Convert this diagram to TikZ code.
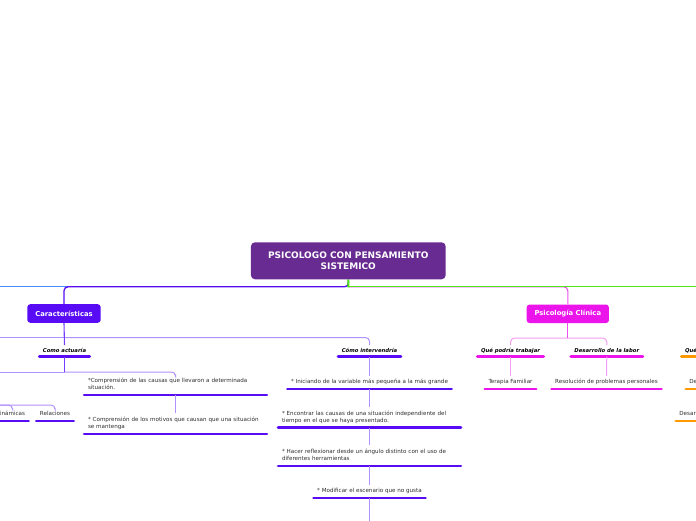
\documentclass[tikz,border=0pt]{standalone}
\usepackage{fontspec}
\setmainfont{DejaVu Sans}
\usetikzlibrary{calc}
\definecolor{cRoot}{RGB}{104,43,145}
\definecolor{cCar}{RGB}{88,12,245}
\definecolor{cCarLine}{RGB}{120,60,255}
\definecolor{cLav}{RGB}{176,145,255}
\definecolor{cMag}{RGB}{235,20,235}
\definecolor{cMagLine}{RGB}{238,80,238}
\definecolor{cLMag}{RGB}{244,155,244}
\definecolor{cGreen}{RGB}{80,230,20}
\definecolor{cLBlue}{RGB}{70,140,255}
\definecolor{cOrange}{RGB}{255,153,0}
\definecolor{cText}{RGB}{45,45,45}
\newcommand\sst{\rule[-1.3pt]{0pt}{1pt}}
\begin{document}
\begin{tikzpicture}[x=1pt,y=-1pt,
  rootbox/.style={fill=cRoot, text=white, font=\fontsize{9}{11.3}\selectfont\bfseries, align=center, rounded corners=4pt, minimum width=194.7pt, minimum height=37pt, inner sep=0pt},
  mainbox/.style={fill=#1, text=white, font=\fontsize{6.8}{8}\selectfont\bfseries, rounded corners=3pt, minimum height=18.6pt, inner sep=0pt},
  lbl/.style={anchor=south, text=black, font=\fontsize{5.3}{7}\selectfont\bfseries\itshape, inner xsep=3.5pt, inner ysep=2.8pt, text height=4pt, text depth=1.3pt},
  item/.style={anchor=south, text=cText, font=\fontsize{5.6}{7}\selectfont, inner xsep=3.5pt, inner ysep=3.7pt, text height=4pt, text depth=1.3pt},
  itemw/.style={anchor=south, text=cText, font=\fontsize{5.6}{7}\selectfont, inner xsep=3.7pt, inner ysep=3.7pt, text width=175pt, align=left},
  barline/.style={line width=2.8pt, line cap=round},
  ubar/.style={append after command={(\tikzlastnode.south west) edge[barline, draw=#1] (\tikzlastnode.south east)}},
  conL/.style={draw=cLav, line width=1pt},
  conD/.style={draw=cCarLine, line width=1.1pt},
  conLM/.style={draw=cLMag, line width=1pt},
  conM/.style={draw=cMagLine, line width=1.1pt},
  conMain/.style={line width=1.3pt}
]
\useasboundingbox (0,0) rectangle (696,520);
\clip (0,0) rectangle (696,520);

% main nodes
\node[rootbox] (root) at (348.3,260.8) {PSICOLOGO CON PENSAMIENTO\\SISTEMICO};
\node[mainbox=cCar, minimum width=73.4pt] (car) at (64,313.5) {Características};
\node[mainbox=cMag, minimum width=82.3pt] (psi) at (567.8,313.8) {Psicología Clínica};

% Caracteristicas branch
\node[lbl, ubar=cCar] (lblA) at (64.5,356.5) {Como actuaría};
\node[lbl, ubar=cCar] (lblB) at (369.5,356.5) {Cómo intervendría};
\node[itemw, ubar=cCar] (cA1) at (175.5,395) {*Comprensión de las causas que llevaron a determinada\\situación.\sst};
\node[itemw, ubar=cCar] (cA2) at (175.5,434) {* Comprensión de los motivos que causan que una situación\\se mantenga\sst};
\node[item, ubar=cCar] (din) at (12.5,421) {inámicas};
\node[item, ubar=cCar] (rel) at (55,421) {Relaciones};
\node[item, ubar=cCar] (B1) at (369.5,389) {* Iniciando de la variable más pequeña a la más grande};
\node[itemw, ubar=cCar] (B2) at (369.5,427.5) {* Encontrar las causas de una situación independiente del\\tiempo en el que se haya presentado.\sst};
\node[itemw, ubar=cCar] (B3) at (369.5,466) {* Hacer reflexionar desde un ángulo distinto con el uso de\\diferentes herramientas\sst};
\node[item, ubar=cCar] (B4) at (369.5,498) {* Modificar el escenario que no gusta};

% Psicologia clinica branch
\node[lbl, ubar=cMag] (P1) at (510.5,356.5) {Qué podría trabajar};
\node[lbl, ubar=cMag] (P2) at (606.8,356.5) {Desarrollo de la labor};
\node[item, ubar=cMag] (P3) at (510.5,389) {Terapia Familiar};
\node[item, ubar=cMag] (P4) at (606.5,389) {Resolución de problemas personales};

% orange branch (cut by the right edge)
\node[lbl, anchor=south west, ubar=cOrange] (O1) at (681.4,356.5) {Qué};
\node[item, anchor=south west, ubar=cOrange] (O2) at (685.7,389) {De};
\node[item, anchor=south west, ubar=cOrange] (O3) at (675.7,421) {Desar};

% free ends
\coordinate (jR) at (348.5,286.8);
\coordinate (westB) at (-5,286.8);
\coordinate (eastG) at (705,286.8);
\coordinate (jA) at (64.5,337.5);
\coordinate (westA) at (-5,337.5);
\coordinate (jA2) at (64.5,372);
\coordinate (westA2) at (-5,372);
\coordinate (westD) at (-5,405);
\coordinate (southB) at (369.5,530);
\coordinate (jP) at (567.8,338);

% top connectors
\draw[conMain, draw=cLBlue] (root.south) |- (westB);
\draw[conMain, draw=cCar, rounded corners=4pt] (root.south) -- (jR) -| (car.north);
\draw[conM, rounded corners=4pt] (jR) -| (psi.north);
\draw[conMain, draw=cGreen] (jR) -- (eastG);
\draw[draw=cGreen, line width=2pt] (root.south) -- ([yshift=-0.6pt]jR);

% Caracteristicas connectors
\draw[conL] (jA) -- (westA);
\draw[conL, rounded corners=4pt] (jA) -| (lblB.north);
\draw[conD] (car.south) -- (lblA.north);
\draw[conL] (westA2) -- (jA2);
\draw[conL, rounded corners=4pt] (jA2) -| (cA1.north);
\draw[conD] (lblA.south) -- (jA2);
\draw[conL] (cA1.south) -- (cA2.north);
\draw[conL, rounded corners=4pt] (westD) -| (din.north);
\draw[conL, rounded corners=4pt] (westD) -| (rel.north);
\draw[conL] (lblB.south) -- (B1.north);
\draw[conL] (B1.south) -- (B2.north);
\draw[conL] (B2.south) -- (B3.north);
\draw[conL] (B3.south) -- (B4.north);
\draw[conL] (B4.south) -- (southB);

% Psicologia clinica connectors
\draw[conLM, rounded corners=4pt] (P1.north) |- (jP) -| (P2.north);
\draw[conM] (psi.south) -- (jP);
\draw[conLM] (P1.south) -- (P3.north);
\draw[conLM] (P2.south) -- (P4.north);
\end{tikzpicture}
\end{document}
